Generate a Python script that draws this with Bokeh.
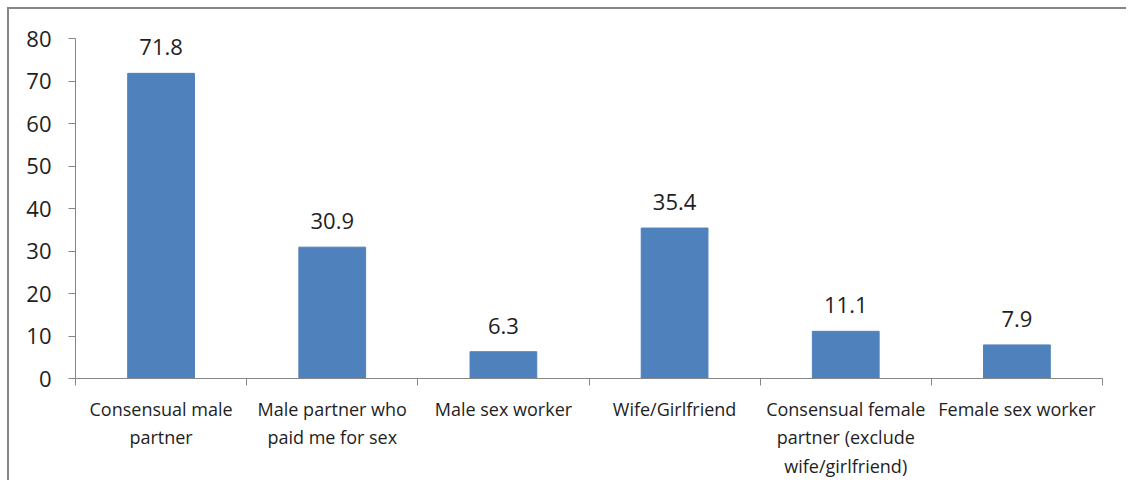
from bokeh.plotting import figure
from bokeh.models import Range1d, FixedTicker, ColumnDataSource
from bokeh.core.properties import value
from bokeh.embed import file_html
from bokeh.resources import INLINE

categories = ["Consensual male\npartner", "Male partner who\npaid me for sex", "Male sex worker",
              "Wife/Girlfriend", "Consensual female\npartner (exclude\nwife/girlfriend)", "Female sex worker"]
values = [71.8, 30.9, 6.3, 35.4, 11.1, 7.9]
y_ticks = [0, 10, 20, 30, 40, 50, 60, 70, 80]

FONT = "Open Sans"
BAR = "#4F81BD"
AXIS = "#868686"
TXT = "#1e1e1e"

n = len(categories)
centers = [i + 0.5 for i in range(n)]
labels = [f"{v:.1f}" for v in values]
src = ColumnDataSource(dict(x=centers, top=values, label=labels))

# outer offset of 9px (7px margin + 2px border) on top/left
p = figure(width=1119, height=473, output_backend="svg", toolbar_location=None,
           x_range=Range1d(0, n), y_range=Range1d(0, 80),
           min_border_left=66, min_border_right=26, min_border_top=29, min_border_bottom=104)
p.styles = {"margin-top": "7px", "margin-left": "7px",
            "border-top": f"2px solid {AXIS}", "border-left": f"2px solid {AXIS}"}
p.outline_line_color = None
p.grid.grid_line_color = None
p.background_fill_color = "white"
p.border_fill_color = "white"

p.vbar(x="x", top="top", bottom=0, width=0.39, source=src, fill_color=BAR, line_color=BAR)
p.text(x="x", y="top", text="label", source=src, text_align="center", text_baseline="alphabetic",
       y_offset=-26, text_font=value(FONT), text_font_size="22px", text_color=TXT)

# y axis
ya = p.yaxis[0]
ya.ticker = FixedTicker(ticks=y_ticks)
ya.axis_line_color = AXIS
ya.major_tick_line_color = AXIS
ya.major_tick_in = 0
ya.major_tick_out = 7
ya.minor_tick_line_color = None
ya.major_label_text_font = FONT
ya.major_label_text_font_size = "22px"
ya.major_label_text_color = TXT
ya.major_label_standoff = 17

# x axis
xa = p.xaxis[0]
xa.ticker = FixedTicker(ticks=centers, minor_ticks=list(range(n + 1)))
xa.major_label_overrides = {c: lab for c, lab in zip(centers, categories)}
xa.axis_line_color = AXIS
xa.major_tick_line_color = None
xa.major_tick_in = 0
xa.major_tick_out = 0
xa.minor_tick_line_color = AXIS
xa.minor_tick_in = 0
xa.minor_tick_out = 7
xa.major_label_text_font = FONT
xa.major_label_text_font_size = "18px"
xa.major_label_text_color = TXT
xa.major_label_standoff = 11

open("out.html", "w").write(file_html(p, INLINE))
